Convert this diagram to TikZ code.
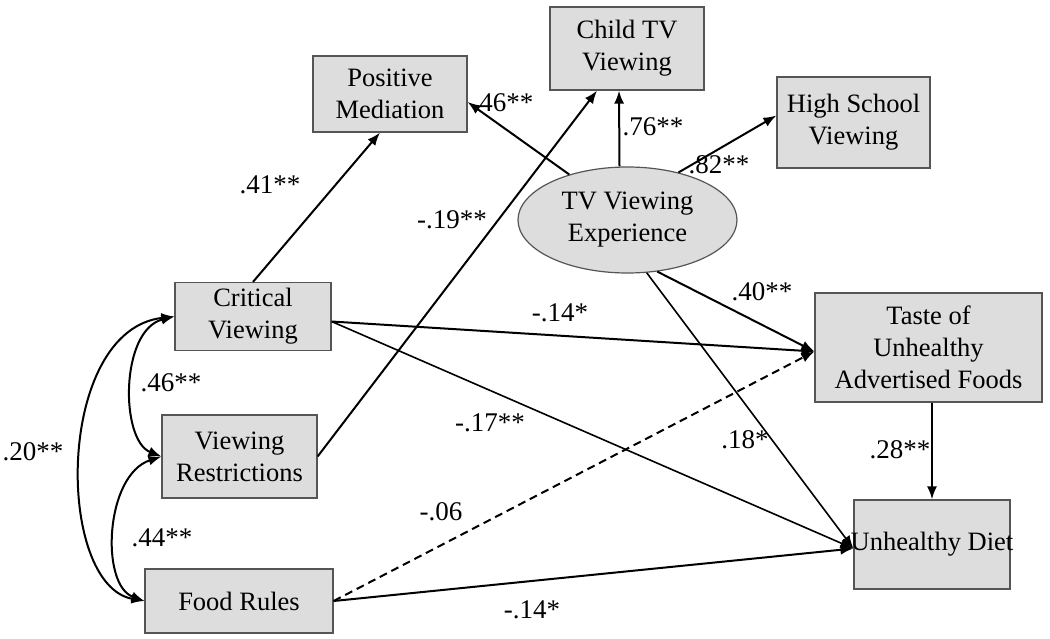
\documentclass[tikz,border=0pt]{standalone}
\usepackage{fontspec}
\setmainfont{Liberation Serif}
\usepackage{xcolor}
\definecolor{BoxFill}{RGB}{221,221,221}
\definecolor{BoxLine}{RGB}{85,85,85}
\usetikzlibrary{shapes.geometric, arrows.meta, positioning}

\begin{document}
\begin{tikzpicture}[
        x=1pt, y=-1pt,
        var/.style={rectangle, draw=BoxLine, fill=BoxFill, line width=1.2pt, align=center, inner sep=0pt, font=\fontsize{26.5}{32}\selectfont},
        latent/.style={ellipse, draw=BoxLine, fill=BoxFill, line width=1.2pt, align=center, inner sep=0pt, font=\fontsize{26.5}{32}\selectfont},
        path/.style={-{Latex[length=13pt, width=10pt]}, line width=2pt},
        corr/.style={{Latex[length=13pt, width=10pt]}-{Latex[length=13pt, width=10pt]}, line width=2pt},
        coef/.style={inner sep=0pt, font=\fontsize{27}{31}\selectfont}
    ]
        \useasboundingbox (0,0) rectangle (1050,639);

        % Nodes
        \node[var, minimum width=154pt, minimum height=76pt] (posmed) at (390,94) {Positive\\Mediation};
        \node[var, minimum width=154pt, minimum height=83pt] (childtv) at (627,48.5) {Child TV\\Viewing};
        \node[var, minimum width=153pt, minimum height=91pt] (hsview) at (853.5,122.5) {High School\\Viewing};
        \node[latent, minimum width=219pt, minimum height=106pt] (tvexp) at (627.5,220) {TV Viewing\\Experience};
        \node[var, minimum width=156pt, minimum height=68pt] (crit) at (253,316.5) {Critical\\Viewing};
        \node[var, minimum width=155pt, minimum height=83pt] (restrict) at (239.5,456.5) {Viewing\\Restrictions};
        \node[var, minimum width=188pt, minimum height=64pt] (food) at (239,601) {Food Rules};
        \node[var, minimum width=227pt, minimum height=109pt] (taste) at (928.5,347.5) {Taste of\\Unhealthy\\Advertised Foods};
        \node[var, minimum width=156pt, minimum height=89pt] (diet) at (932,544.5) {\raisebox{-4pt}{\makebox[140pt]{Unhealthy Diet}}};

        % Connections
        \draw[path] (crit.north) -- ([xshift=-10pt]posmed.south);
        \draw[path] (restrict.east) -- ([xshift=-30pt]childtv.south);
        \draw[path] (tvexp.142) -- ([yshift=-8pt]posmed.east);
        \draw[path] ([xshift=-8pt]tvexp.north) -- ([xshift=-8pt]childtv.south);
        \draw[path] (tvexp.43) -- ([yshift=7pt]hsview.west);
        \draw[path] (tvexp.300) -- ([yshift=-4pt]taste.west);
        \draw[path, line width=1.6pt] (tvexp.290) -- ([yshift=-4pt]diet.west);
        \draw[path] ([yshift=-5pt]crit.east) -- ([yshift=-4pt]taste.west);
        \draw[path, line width=1.6pt] ([yshift=-5pt]crit.east) -- ([yshift=-4pt]diet.west);
        \draw[path, dash pattern=on 8pt off 5pt] (food.east) -- ([yshift=-4pt]taste.west);
        \draw[path] (food.east) -- ([yshift=-4pt]diet.west);
        \draw[path] (taste.south -| diet.north) -- (diet.north);

        % Correlations
        \draw[corr] (crit.west) .. controls (120,330) and (120,440) .. (restrict.west);
        \draw[corr] (restrict.west) .. controls (105,475) and (100,585) .. (food.west);
        \draw[corr] (crit.west) .. controls (55,330) and (55,585) .. (food.west);

        % Coefficients
        \node[coef] (c41) at (270,185) {.41**};
        \node[coef] (c19) at (452,220) {-.19**};
        \node[coef] (c46a) at (503,103) {.46**};
        \node[coef] (c76) at (653,127) {.76**};
        \node[coef] (c82) at (719,165) {.82**};
        \node[coef] (c40) at (762,292) {.40**};
        \node[coef] (c18) at (745,440) {.18*};
        \node[coef] (c28) at (900,450) {.28**};
        \node[coef] (c14a) at (560,313) {-.14*};
        \node[coef] (c17) at (490,423) {-.17**};
        \node[coef] (c06) at (441,512) {-.06};
        \node[coef] (c14b) at (532,610) {-.14*};
        \node[coef] (c46b) at (171,383) {.46**};
        \node[coef] (c44) at (162,538) {.44**};
        \node[coef] (c20) at (33,452) {.20**};

    \end{tikzpicture}
\end{document}
